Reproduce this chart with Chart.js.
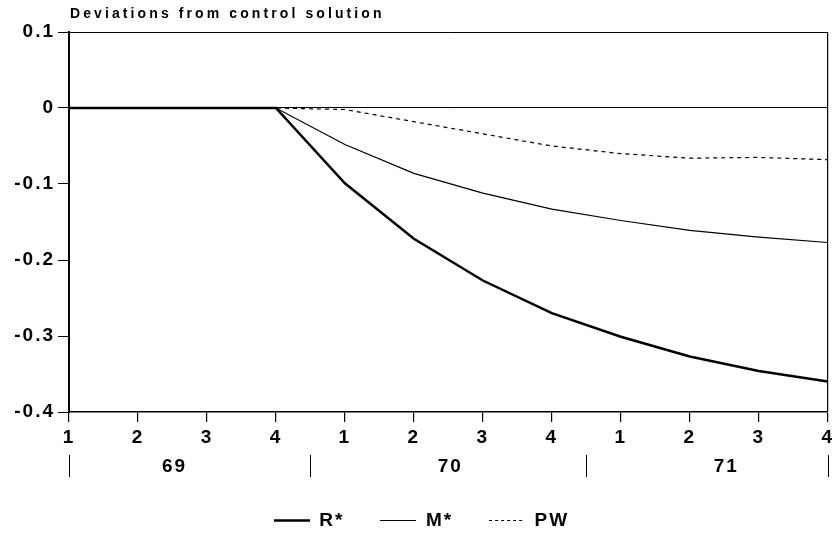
<!DOCTYPE html>
<html>
<head>
<meta charset="utf-8">
<script src="https://cdn.jsdelivr.net/npm/chart.js@4.4.0/dist/chart.umd.min.js"></script>
<style>
  html, body { margin: 0; padding: 0; background: #fff; }
  #wrap { width: 837px; height: 552px; }
</style>
</head>
<body>
<div id="wrap"><canvas id="graph"></canvas></div>
<script>
// quarters 1969Q1 .. 1971Q4
const quarters = ['1', '2', '3', '4', '1', '2', '3', '4', '1', '2', '3', '4']
const years = ['69', '70', '71']
const yTicks = [0.1, 0, -0.1, -0.2, -0.3, -0.4]

const rStar = [0, 0, 0, 0, -0.099, -0.172, -0.227, -0.270, -0.301, -0.327, -0.346, -0.360]
const mStar = [0, 0, 0, 0, -0.048, -0.086, -0.112, -0.133, -0.148, -0.161, -0.170, -0.177]
const pw    = [0, 0, 0, 0, -0.002, -0.018, -0.034, -0.050, -0.060, -0.066, -0.065, -0.068]

const FONT = 'Liberation Sans, Arial, Helvetica, sans-serif'

// little line samples for the legend
const legendLine = (width, dash) => {
    const c = document.createElement('canvas')
    c.width = 36
    c.height = 7
    const g = c.getContext('2d')
    g.strokeStyle = '#000'
    g.lineWidth = width
    g.setLineDash(dash)
    g.beginPath()
    g.moveTo(0, 3.5)
    g.lineTo(36, 3.5)
    g.stroke()
    return c
}

// title + year row + letter spacing
const extras = {
    id: 'extras',
    beforeDraw(chart) {
        chart.ctx.letterSpacing = '2px'
    },
    afterDraw(chart) {
        const ctx = chart.ctx
        const x = chart.scales.x
        const area = chart.chartArea
        ctx.save()
        ctx.fillStyle = '#000'
        ctx.font = 'bold 14px ' + FONT
        ctx.letterSpacing = '3.1px'
        ctx.textAlign = 'left'
        ctx.textBaseline = 'alphabetic'
        ctx.fillText('Deviations from control solution', area.left + 1, 18)

        // year labels, separators between groups of 4 quarters
        ctx.font = 'bold 19px ' + FONT
        ctx.letterSpacing = '2px'
        ctx.textAlign = 'center'
        ctx.textBaseline = 'middle'
        ctx.strokeStyle = '#000'
        ctx.lineWidth = 1
        const seps = [x.getPixelForValue(0)]
        years.forEach((yr, i) => {
            const a = x.getPixelForValue(i * 4)
            const b = x.getPixelForValue(i * 4 + 3)
            ctx.fillText(yr, (a + b) / 2 + 2, 467)
            if (i < years.length - 1) {
                seps.push((b + x.getPixelForValue(i * 4 + 4)) / 2)
            }
        })
        seps.push(x.getPixelForValue(quarters.length - 1))
        seps.forEach(px => {
            ctx.beginPath()
            ctx.moveTo(Math.round(px) + 0.5, 455)
            ctx.lineTo(Math.round(px) + 0.5, 477)
            ctx.stroke()
        })
        ctx.restore()
    }
}

const samples = [legendLine(2.5, []), legendLine(1, []), legendLine(1, [3, 3])]

const ctx = document.getElementById('graph').getContext('2d')
const chart = new Chart(ctx, {
    type: 'line',
    data: {
        labels: quarters,
        datasets: [{
            label: 'R*',
            data: rStar,
            borderColor: '#000',
            borderWidth: 2.5,
            pointRadius: 0,
            tension: 0
        }, {
            label: 'M*',
            data: mStar,
            borderColor: '#000',
            borderWidth: 1.2,
            pointRadius: 0,
            tension: 0
        }, {
            label: 'PW',
            data: pw,
            borderColor: '#000',
            borderWidth: 1.2,
            borderDash: [4, 4],
            pointRadius: 0,
            tension: 0
        }]
    },
    options: {
        responsive: true,
        maintainAspectRatio: false,
        animation: false,
        layout: { padding: { left: 0, right: 6, top: 32, bottom: 12 } },
        plugins: {
            title: { display: false },
            tooltip: { enabled: false },
            legend: {
                position: 'bottom',
                labels: {
                    color: '#000',
                    font: { family: FONT, size: 19, weight: 'bold' },
                    usePointStyle: true,
                    pointStyleWidth: 36,
                    padding: 36,
                    generateLabels(chart) {
                        const items = Chart.defaults.plugins.legend.labels.generateLabels(chart)
                        items.forEach((it, i) => { it.pointStyle = samples[i] })
                        return items
                    }
                }
            }
        },
        scales: {
            x: {
                offset: false,
                afterFit(scale) { scale.height = 63 },
                grid: {
                    drawOnChartArea: true,
                    color: c => c.index === quarters.length - 1 ? '#000' : 'rgba(0,0,0,0)',
                    tickColor: '#000',
                    tickLength: 10,
                    lineWidth: 1.2
                },
                border: { display: true, color: '#000', width: 1.5 },
                ticks: {
                    color: '#000',
                    font: { family: FONT, size: 19, weight: 'bold' },
                    padding: 4,
                    maxRotation: 0,
                    autoSkip: false
                }
            },
            y: {
                min: -0.4,
                max: 0.1,
                afterFit(scale) { scale.width = 69 },
                afterBuildTicks(scale) {
                    scale.ticks = yTicks.map(v => ({ value: v }))
                },
                grid: {
                    color: c => (c.tick && (c.tick.value === 0 || c.tick.value === 0.1)) ? '#000' : 'rgba(0,0,0,0)',
                    tickColor: '#000',
                    tickLength: 11,
                    lineWidth: 1
                },
                border: { display: true, color: '#000', width: 2 },
                ticks: {
                    color: '#000',
                    font: { family: FONT, size: 19, weight: 'bold' },
                    padding: 3,
                    callback: v => v === 0 ? '0' : v.toFixed(1)
                }
            }
        }
    },
    plugins: [extras]
})
</script>
</body>
</html>
